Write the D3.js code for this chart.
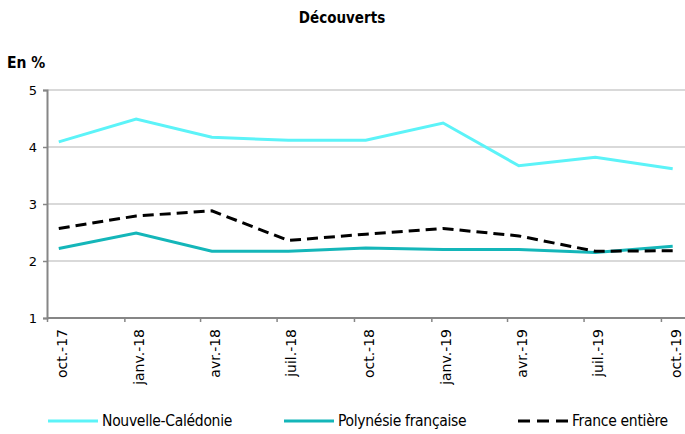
<!DOCTYPE html>
<html><head><meta charset="utf-8">
<script src="https://cdn.jsdelivr.net/npm/d3@7"></script>
<style>body{margin:0;background:#fff}svg{display:block}</style>
</head><body>
<svg id="c" width="685" height="434"></svg>
<script>
const dates = ["2017-10-15","2018-01-15","2018-04-15","2018-07-15","2018-10-15","2019-01-15","2019-04-15","2019-07-15","2019-10-15"];
const tickLabels = ["oct.-17","janv.-18","avr.-18","juil.-18","oct.-18","janv.-19","avr.-19","juil.-19","oct.-19"];
const nouvelleCaledonie = [4.09, 4.49, 4.17, 4.12, 4.12, 4.42, 3.67, 3.82, 3.62];
const polynesie = [2.22, 2.49, 2.17, 2.17, 2.23, 2.20, 2.20, 2.15, 2.26];
const franceEntiere = [2.57, 2.79, 2.88, 2.36, 2.47, 2.57, 2.44, 2.17, 2.18];
const yTicks = [1, 2, 3, 4, 5];
const seriesNames = ["Nouvelle-Calédonie", "Polynésie française", "France entière"];

const svg = d3.select("#c");
const parse = d3.utcParse("%Y-%m-%d");
const pts = dates.map(parse);
const tickDates = ["2017-10-01","2018-01-01","2018-04-01","2018-07-01","2018-10-01","2019-01-01","2019-04-01","2019-07-01","2019-10-01"].map(parse);

const x = d3.scaleUtc().domain([parse("2017-10-01"), parse("2019-11-01")]).range([47, 687]);
const y = d3.scaleLinear().domain([1, 5]).range([318, 90]);

// gridlines
svg.append("g").selectAll("line").data(yTicks.slice(1)).join("line")
  .attr("x1", 47).attr("x2", 685).attr("y1", d => y(d)).attr("y2", d => y(d))
  .attr("stroke", "#d9d9d9").attr("stroke-width", 2);

// y axis
const yAxis = svg.append("g").attr("transform", "translate(47,0)")
  .call(d3.axisLeft(y).tickValues(yTicks).tickSize(4).tickPadding(6).tickFormat(d3.format("d")));
yAxis.select(".domain").attr("stroke", "#868686").attr("stroke-width", 2);
yAxis.selectAll(".tick line").attr("stroke", "#868686").attr("stroke-width", 1.5);
yAxis.selectAll("text").attr("font-family", "DejaVu Sans").attr("font-size", 13).attr("fill", "#000");

// x axis
const xAxis = svg.append("g").attr("transform", "translate(0,318)")
  .call(d3.axisBottom(x).tickValues(tickDates).tickSize(4).tickFormat(""));
xAxis.select(".domain").attr("d", "M47,0H685").attr("stroke", "#868686").attr("stroke-width", 2);
xAxis.selectAll(".tick line").attr("stroke", "#868686").attr("stroke-width", 1.5);

svg.append("g").selectAll("text").data(tickLabels).join("text")
  .attr("transform", (d, i) => `translate(${x(pts[i]) + 3},${329}) rotate(-90)`)
  .attr("text-anchor", "end").attr("dy", "0.35em")
  .attr("font-family", "DejaVu Sans").attr("font-size", 14).attr("fill", "#000")
  .text(d => d);

// lines
const line = d3.line().x((d, i) => x(pts[i])).y(d => y(d));
svg.append("path").datum(nouvelleCaledonie).attr("d", line).attr("fill", "none")
  .attr("stroke", "#5cf3f8").attr("stroke-width", 3);
svg.append("path").datum(polynesie).attr("d", line).attr("fill", "none")
  .attr("stroke", "#14b6b9").attr("stroke-width", 3);
svg.append("path").datum(franceEntiere).attr("d", line).attr("fill", "none")
  .attr("stroke", "#000").attr("stroke-width", 3).attr("stroke-dasharray", "11,6");

// title
svg.append("text").attr("x", 342).attr("y", 23).attr("text-anchor", "middle")
  .attr("font-family", "DejaVu Sans Condensed, DejaVu Sans").attr("font-weight", "bold")
  .attr("font-size", 15).text("Découverts");
svg.append("text").attr("x", 7).attr("y", 68)
  .attr("font-family", "DejaVu Sans Condensed, DejaVu Sans").attr("font-weight", "bold")
  .attr("font-size", 15.5).text("En %");

// legend
const legend = [
  {name: seriesNames[0], x: 48, color: "#5cf3f8", dash: null},
  {name: seriesNames[1], x: 284, color: "#14b6b9", dash: null},
  {name: seriesNames[2], x: 518, color: "#000", dash: "12,7"}
];
const lg = svg.append("g").selectAll("g").data(legend).join("g");
lg.append("line").attr("x1", d => d.x).attr("x2", d => d.x + 50).attr("y1", 421).attr("y2", 421)
  .attr("stroke", d => d.color).attr("stroke-width", 3).attr("stroke-dasharray", d => d.dash);
lg.append("text").attr("x", d => d.x + 54).attr("y", 421).attr("dy", "0.35em")
  .attr("font-family", "DejaVu Sans Condensed, DejaVu Sans").attr("font-size", 15.5)
  .attr("letter-spacing", -0.3)
  .attr("fill", "#000").text(d => d.name);
</script>
</body></html>
